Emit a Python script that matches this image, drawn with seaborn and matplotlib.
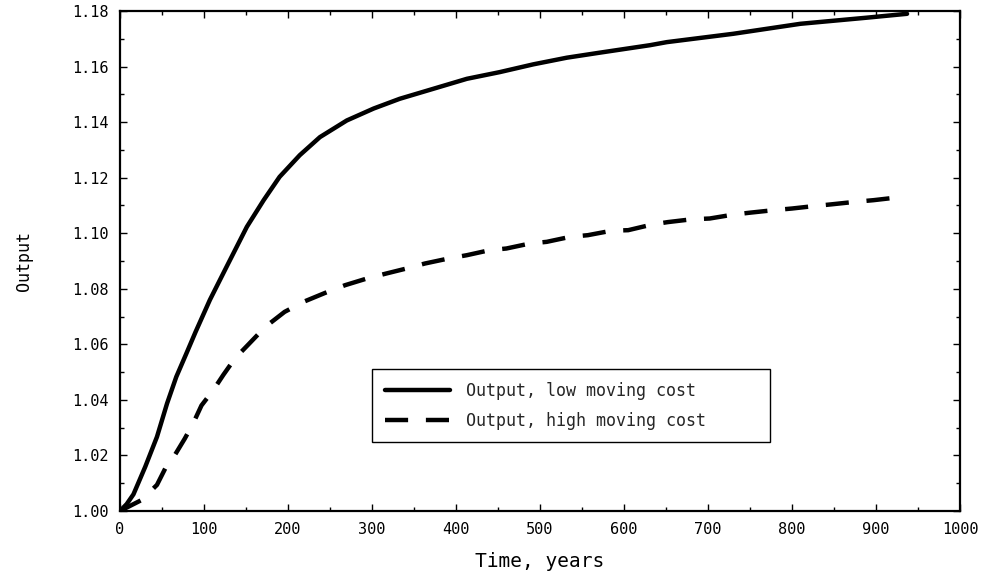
import pandas as pd
import matplotlib
matplotlib.use('Agg')
import matplotlib.pyplot as plt
import seaborn as sns
from matplotlib.ticker import MultipleLocator, FormatStrFormatter

# Values
low_t = [0, 8, 16, 30, 44, 56, 67, 79, 90, 107, 127, 151, 171, 190, 214, 238,
         270, 302, 333, 373, 413, 452, 492, 532, 571, 631, 651, 730, 810, 889, 937]
low_output = [1.000, 1.0025, 1.006, 1.0159, 1.0267, 1.0387, 1.0483, 1.0567,
              1.0645, 1.076, 1.088, 1.1023, 1.1119, 1.1203, 1.1281, 1.1346,
              1.1406, 1.1449, 1.1484, 1.152, 1.1556, 1.158, 1.1608, 1.1632,
              1.165, 1.1677, 1.1688, 1.1718, 1.1754, 1.1776, 1.179]

high_t = [0, 26, 44, 54, 65, 77, 87, 97, 111, 123, 137, 153, 173, 196, 220, 244,
          268, 295, 317, 341, 363, 391, 413, 440, 460, 488, 508, 536, 557, 585,
          605, 633, 652, 680, 702, 730, 750, 778, 800, 827, 847, 875, 897, 923]
high_output = [1.000, 1.004, 1.0094, 1.0154, 1.020, 1.026, 1.0315, 1.038, 1.0435,
               1.049, 1.055, 1.060, 1.0663, 1.0717, 1.0755, 1.0785, 1.0813,
               1.0838, 1.0855, 1.0873, 1.0891, 1.0909, 1.0921, 1.0939, 1.0945,
               1.0963, 1.0969, 1.0987, 1.0993, 1.1009, 1.1011, 1.1031, 1.104,
               1.105, 1.1053, 1.1067, 1.1074, 1.1083, 1.1089, 1.1098, 1.1104,
               1.1113, 1.1119, 1.1128]

low_df = pd.DataFrame({'time': low_t, 'output': low_output})
high_df = pd.DataFrame({'time': high_t, 'output': high_output})

sns.set_theme(style='ticks')
plt.rcParams['font.family'] = ['DejaVu Sans Mono', 'DejaVu Sans']

fig = plt.figure(figsize=(9.91, 5.83), dpi=100)
ax = fig.add_axes([0.1211, 0.1235, 0.8476, 0.8576])

lw = 3.2
sns.lineplot(data=low_df, x='time', y='output', ax=ax, color='black',
             lw=lw, label='Output, low moving cost')
sns.lineplot(data=high_df, x='time', y='output', ax=ax, color='black',
             lw=lw, linestyle=(0, (5.2, 4.0)), label='Output, high moving cost')

ax.set_xlim(0, 1000)
ax.set_ylim(1.00, 1.18)
ax.xaxis.set_major_locator(MultipleLocator(100))
ax.xaxis.set_minor_locator(MultipleLocator(50))
ax.yaxis.set_major_locator(MultipleLocator(0.02))
ax.yaxis.set_minor_locator(MultipleLocator(0.01))
ax.yaxis.set_major_formatter(FormatStrFormatter('%.2f'))

ax.tick_params(which='both', direction='in', top=True, right=True,
               color='black', width=1, labelsize=11, labelcolor='black')
ax.tick_params(which='major', length=5, pad=8)
ax.tick_params(which='minor', length=3)
for side in ax.spines.values():
    side.set_linewidth(1.6)
    side.set_color('black')

ax.set_xlabel('Time, years', fontsize=14, color='black')
ax.set_ylabel('Output', fontsize=12, color='black')
ax.xaxis.set_label_coords(0.5, -0.083)
ax.yaxis.set_label_coords(-0.104, 0.5)

leg = ax.legend(loc='lower left', bbox_to_anchor=(0.30, 0.138, 0.474, 0.14),
                mode='expand', borderaxespad=0, fontsize=12,
                handlelength=3.9, handletextpad=1.0, labelspacing=0.7,
                borderpad=0.75, fancybox=False, framealpha=1)
leg.get_frame().set_edgecolor('black')
leg.get_frame().set_linewidth(1)

plt.savefig('out.png', dpi=100)
plt.close()
